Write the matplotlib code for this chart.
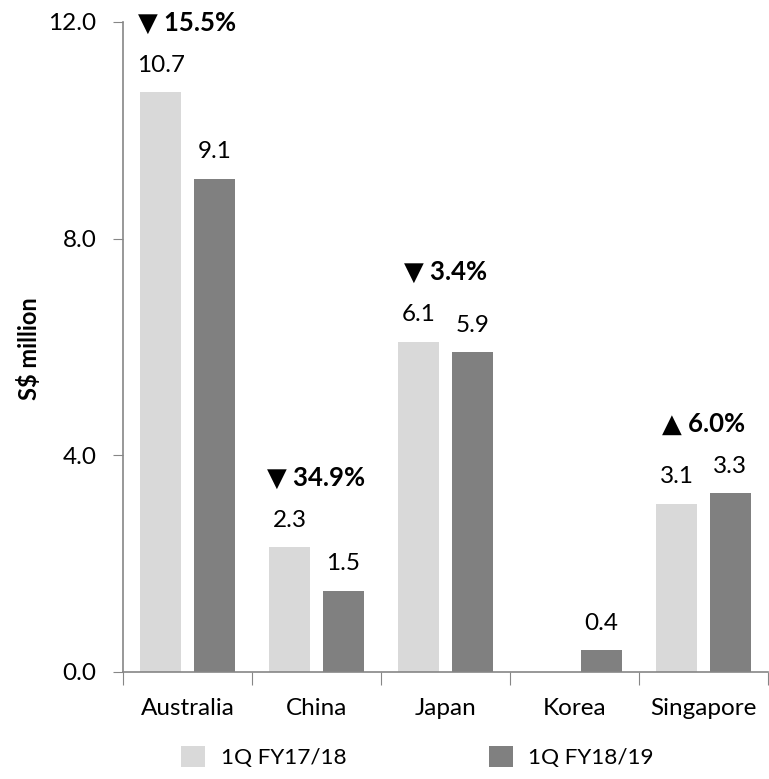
import numpy as np
from matplotlib import pyplot as plt

# revenue by market, S$ million
markets = ["Australia", "China", "Japan", "Korea", "Singapore"]
fy1718 = [10.7, 2.3, 6.1, np.nan, 3.1]
fy1819 = [9.1, 1.5, 5.9, 0.4, 3.3]
changes = ["\u25bc 15.5%", "\u25bc 34.9%", "\u25bc 3.4%", "", "\u25b2 6.0%"]
series_names = ["1Q FY17/18", "1Q FY18/19"]
yticks = [0.0, 4.0, 8.0, 12.0]

plt.rcParams["font.family"] = ["Lato", "DejaVu Sans"]

fig = plt.figure(figsize=(7.69, 7.79), dpi=100)
ax = fig.add_axes([0.160, 0.1374, 0.8387, 0.8344])

x = np.arange(len(markets))
width = 0.32
offset = 0.207

bars_a = ax.bar(x - offset, fy1718, width, color="#D9D9D9", label=series_names[0])
bars_b = ax.bar(x + offset, fy1819, width, color="#808080", label=series_names[1])

for bars, values in ((bars_a, fy1718), (bars_b, fy1819)):
    for bar, v in zip(bars, values):
        if np.isnan(v):
            continue
        ax.annotate(
            f"{v:.1f}",
            (bar.get_x() + bar.get_width() / 2, v),
            xytext=(0, 19.5),
            textcoords="offset points",
            ha="center",
            va="center",
            fontsize=17.5,
        )

for i, label in enumerate(changes):
    if not label:
        continue
    top = np.nanmax([fy1718[i], fy1819[i]])
    ax.annotate(
        label,
        (x[i], top),
        xytext=(0, 50),
        textcoords="offset points",
        ha="center",
        va="center",
        fontsize=18.5,
        fontweight="bold",
    )

ax.set_xlim(-0.5, len(markets) - 0.5)
ax.set_ylim(0, 12)

ax.set_yticks(yticks)
ax.set_yticklabels([f"{t:.1f}" for t in yticks], fontsize=17.5)
ax.tick_params(axis="y", length=7, color="#868686", pad=12)

ax.set_xticks(np.arange(len(markets) + 1) - 0.5)
ax.set_xticklabels([])
ax.tick_params(axis="x", which="major", length=9, color="#868686")
ax.set_xticks(x, minor=True)
ax.set_xticklabels(markets, minor=True, fontsize=17.5)
ax.tick_params(axis="x", which="minor", length=0, pad=19)

for side in ("top", "right"):
    ax.spines[side].set_visible(False)
for side in ("left", "bottom"):
    ax.spines[side].set_color("#868686")
    ax.spines[side].set_linewidth(1.2)

fig.text(0.038, 0.553, "S$ million", rotation=90, ha="center", va="center",
         fontsize=17, fontweight="bold")

fig.legend(
    loc="center",
    bbox_to_anchor=(0.543, 0.028),
    ncol=2,
    frameon=False,
    fontsize=16.2,
    handlelength=1.07,
    handleheight=1.07,
    handletextpad=0.7,
    columnspacing=6.3,
)

fig.savefig("out.png", dpi=100)
